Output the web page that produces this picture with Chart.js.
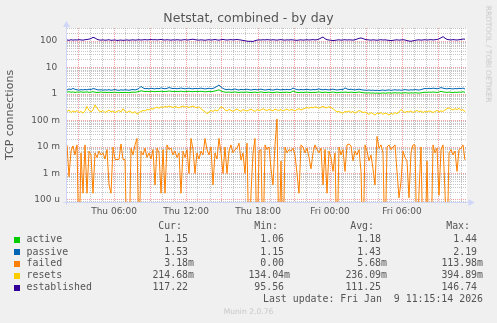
<!DOCTYPE html>
<html><head><meta charset="utf-8">
<script src="https://cdn.jsdelivr.net/npm/chart.js@4.4.1/dist/chart.umd.min.js"></script>
<style>
html,body{margin:0;padding:0;background:#F0F0F0;}
#wrap{position:relative;width:497px;height:323px;overflow:hidden;background:#F0F0F0;}
canvas{position:absolute;left:0;top:0;}
.t{position:absolute;white-space:pre;color:#555;}
.mono{font-family:"DejaVu Sans Mono",monospace;font-size:9.9px;line-height:12px;height:12px;}
.sq{position:absolute;width:6px;height:6px;}
</style></head><body>
<div id="wrap"><canvas id="c" width="497" height="323"></canvas></div>
<script>
// ---------- data (5-minute rrd, sampled every 10 minutes) ----------
const START_HOUR = 2 + 5 / 60;      // Thu 02:05 (hours since Thu 00:00)
const STEP_HOURS = 10 / 60;
const END_HOUR = START_HOUR + 400 / 12;

const seriesNames  = ['active', 'passive', 'failed', 'resets', 'established'];
const seriesColors = ['#00CC00', '#0066B3', '#FF8000', '#FFCC00', '#330099'];

const active = [
1.18,1.22,1.16,1.20,1.15,1.19,1.17,1.21,1.16,1.18,
1.20,1.15,1.18,1.22,1.17,1.14,1.16,1.19,1.15,1.17,
1.14,1.16,1.13,1.15,1.17,1.14,1.12,1.15,1.13,1.16,
1.14,1.12,1.15,1.18,1.16,1.20,1.25,1.32,1.28,1.24,
1.26,1.23,1.27,1.25,1.22,1.26,1.24,1.28,1.25,1.23,
1.26,1.30,1.27,1.24,1.26,1.23,1.25,1.28,1.24,1.22,
1.25,1.27,1.24,1.22,1.26,1.23,1.25,1.27,1.24,1.21,
1.23,1.26,1.22,1.25,1.30,1.36,1.44,1.30,1.22,1.18,
1.16,1.19,1.15,1.17,1.20,1.16,1.14,1.18,1.15,1.17,
1.19,1.15,1.13,1.16,1.18,1.14,1.17,1.20,1.16,1.14,
1.15,1.18,1.14,1.12,1.16,1.19,1.15,1.13,1.17,1.15,
1.18,1.14,1.16,1.30,1.20,1.15,1.13,1.17,1.14,1.16,
1.18,1.15,1.13,1.16,1.14,1.17,1.20,1.16,1.14,1.18,
1.15,1.13,1.16,1.19,1.15,1.12,1.14,1.17,1.15,1.18,
1.16,1.14,1.18,1.15,1.13,1.16,1.19,1.15,1.12,1.10,
1.09,1.11,1.08,1.10,1.07,1.09,1.06,1.08,1.10,1.07,
1.09,1.11,1.08,1.10,1.12,1.09,1.11,1.08,1.10,1.12,
1.10,1.08,1.11,1.09,1.12,1.10,1.08,1.11,1.14,1.17,
1.15,1.18,1.16,1.19,1.17,1.15,1.18,1.26,1.20,1.17,
1.15,1.18,1.16,1.14,1.17,1.15,1.19,1.16,1.22,1.15];

const passive = [
1.42,1.55,1.48,1.62,1.50,1.45,1.40,1.46,1.43,1.48,
1.44,1.52,1.47,1.60,1.55,1.46,1.42,1.45,1.40,1.44,
1.41,1.46,1.39,1.43,1.47,1.41,1.38,1.44,1.40,1.45,
1.42,1.39,1.44,1.48,1.43,1.50,1.62,1.95,1.70,1.58,
1.62,1.57,1.65,1.60,1.56,1.64,1.59,1.70,1.62,1.58,
1.63,1.75,1.66,1.60,1.64,1.58,1.62,1.68,1.61,1.57,
1.62,1.66,1.60,1.57,1.63,1.59,1.61,1.67,1.60,1.56,
1.60,1.65,1.58,1.63,1.75,1.95,2.19,1.85,1.62,1.50,
1.46,1.52,1.44,1.48,1.55,1.47,1.42,1.50,1.45,1.48,
1.52,1.46,1.42,1.47,1.50,1.44,1.48,1.53,1.46,1.42,
1.45,1.50,1.44,1.41,1.47,1.52,1.46,1.43,1.49,1.45,
1.50,1.45,1.48,1.68,1.55,1.47,1.43,1.49,1.44,1.47,
1.51,1.46,1.43,1.48,1.45,1.50,1.55,1.48,1.44,1.50,
1.46,1.43,1.48,1.52,1.46,1.42,1.45,1.50,1.47,1.70,
1.55,1.47,1.52,1.46,1.43,1.48,1.52,1.46,1.42,1.40,
1.38,1.42,1.37,1.40,1.36,1.39,1.35,1.38,1.41,1.37,
1.40,1.43,1.38,1.41,1.45,1.40,1.43,1.39,1.42,1.46,
1.43,1.40,1.44,1.42,1.47,1.44,1.41,1.46,1.55,1.62,
1.58,1.64,1.60,1.66,1.62,1.58,1.63,1.75,1.66,1.60,
1.57,1.62,1.59,1.55,1.61,1.58,1.64,1.60,1.68,1.53];

// failed, in milli-connections (0 = no failures)
const failedMilli = [
12,0.75,7,11,5,12,0,6,0.18,12,
0.18,7,5,0.18,6,4,7,5,6,3.5,
8,0.37,0.18,10,3.4,3.4,3.4,13,3.4,3.4,
0,0,9,5,12,21,0,7,5,9,
4,6,3.5,8,0.37,9,6,0.18,8,0.18,
12,8,9,5,7,4,6,0.18,7,4,
8,1.0,21,8,1.0,6,3.5,7,5,21,
8,5,10,0.37,6,3.5,21,6,1.0,10,
1.0,7,12,6,8,9,14,3.2,6,1.0,
14,0,0.18,6,21,0,7,8,0,12,
8,10,1.5,0.37,12,114,0,3,0,10,
6,8,7,9,5,1.0,0.18,12,10,6,
9,4,1.5,6,12,8,6,9,0.37,8,
0.18,7,4,1.2,6,0,10,5,8,1.2,
12,13,11,3,7,5,8,1.2,0,12,
7,3,5,1.5,0.37,25,9,12,6,0,
10,12,8,10,12,1.2,0.12,0.5,7,4,
3,0.12,6,12,12,0,0.2,10,0,0,
3,0,0,12,6,9,0.15,8,12,0.2,
0,6,8,5,7,1.2,8,9,12,3.18];

const resets = [
0.22,0.25,0.20,0.23,0.21,0.24,0.20,0.22,0.19,0.23,
0.34,0.24,0.21,0.25,0.39,0.30,0.23,0.21,0.24,0.20,
0.22,0.25,0.21,0.23,0.20,0.22,0.24,0.21,0.28,0.22,
0.20,0.23,0.21,0.19,0.22,0.17,0.20,0.22,0.24,0.23,
0.26,0.25,0.28,0.27,0.30,0.32,0.29,0.33,0.31,0.34,
0.32,0.35,0.33,0.31,0.34,0.32,0.30,0.33,0.35,0.32,
0.34,0.31,0.33,0.35,0.32,0.30,0.33,0.28,0.24,0.22,
0.18,0.21,0.24,0.22,0.25,0.23,0.26,0.34,0.30,0.25,
0.23,0.26,0.24,0.22,0.25,0.27,0.24,0.22,0.26,0.24,
0.23,0.25,0.27,0.24,0.22,0.26,0.24,0.25,0.28,0.25,
0.24,0.26,0.25,0.23,0.27,0.25,0.24,0.26,0.23,0.25,
0.27,0.24,0.26,0.25,0.23,0.26,0.28,0.25,0.27,0.29,
0.31,0.29,0.32,0.30,0.33,0.31,0.29,0.32,0.34,0.31,
0.30,0.33,0.31,0.28,0.24,0.21,0.22,0.20,0.19,0.22,
0.21,0.23,0.20,0.22,0.19,0.21,0.24,0.22,0.20,0.21,
0.19,0.17,0.20,0.18,0.16,0.19,0.18,0.20,0.17,0.19,
0.18,0.16,0.19,0.17,0.20,0.18,0.21,0.26,0.22,0.20,
0.22,0.21,0.23,0.20,0.22,0.24,0.21,0.23,0.20,0.22,
0.21,0.23,0.22,0.20,0.22,0.24,0.21,0.23,0.22,0.25,
0.28,0.30,0.27,0.25,0.28,0.26,0.29,0.24,0.26,0.21];

const established = [
110,106,112,108,111,109,113,110,108,112,
114,118,124,138,130,116,110,108,111,107,
109,112,106,108,110,105,107,109,106,108,
110,107,109,111,108,110,112,109,111,113,
110,112,114,111,113,110,112,115,111,109,
112,110,108,111,109,112,110,108,111,113,
109,111,114,117,112,110,108,111,109,107,
110,112,109,111,114,110,108,112,115,111,
109,111,113,110,112,114,111,109,105,102,
99,97,98,96,103,108,111,109,112,110,
113,111,109,112,110,108,111,113,110,108,
111,109,112,110,108,106,109,111,108,110,
112,109,111,113,110,112,118,130,142,122,
112,109,107,104,106,109,111,108,110,112,
109,111,110,108,112,118,126,130,124,115,
112,110,108,111,109,107,110,112,109,111,
108,106,104,106,109,111,108,110,112,109,
104,100,98,102,106,109,111,108,110,112,
109,111,113,110,112,114,120,132,147,128,
115,112,110,113,111,109,112,114,119,117];

// legend statistics (as printed)
const statHeaders = ['Cur:', 'Min:', 'Avg:', 'Max:'];
const statCur = ['1.15', '1.53', '3.18m', '214.68m', '117.22'];
const statMin = ['1.06', '1.15', '0.00', '134.04m', '95.56'];
const statAvg = ['1.18', '1.43', '5.68m', '236.09m', '111.25'];
const statMax = ['1.44', '2.19', '113.98m', '394.89m', '146.74'];

// axis ticks
const yTickValues = [1e-4, 1e-3, 1e-2, 1e-1, 1, 10, 100];
const yTickLabels = ['100 u', '1 m', '10 m', '100 m', '1 ', '10 ', '100 '];
const xTickHours  = [6, 12, 18, 24, 30];
const xTickLabels = ['Thu 06:00', 'Thu 12:00', 'Thu 18:00', 'Fri 00:00', 'Fri 06:00'];

const Y_MIN = 8.4e-5, Y_MAX = 310;
const LOG_FLOOR = 1e-6; // a zero cannot sit on a log axis: drawn as a drop below the floor

// ---------- chart ----------
const times = established.map((_, i) => START_HOUR + i * STEP_HOURS);
const seriesValues = [active, passive, failedMilli.map(v => v / 1000), resets, established];

const MINOR = 'rgba(150,150,150,0.55)';
const MAJOR = 'rgba(235,110,110,0.65)';
const AXIS_COLOR = '#CFD6F8';
const TEXT = '#555';

const isDecade = v => Math.abs(Math.log10(v) - Math.round(Math.log10(v))) < 1e-6;

const framePlugin = {
  id: 'frame',
  beforeDraw(chart) {
    const { ctx, chartArea: a } = chart;
    ctx.save();
    ctx.fillStyle = '#F0F0F0';
    ctx.fillRect(0, 0, chart.width, chart.height);
    ctx.fillStyle = '#FFFFFF';
    ctx.fillRect(a.left, a.top, a.right - a.left, a.bottom - a.top);
    ctx.restore();
  },
  afterDraw(chart) {
    const { ctx, chartArea: a } = chart;
    ctx.save();
    ctx.strokeStyle = AXIS_COLOR; ctx.fillStyle = AXIS_COLOR; ctx.lineWidth = 1;
    const by = a.bottom + 0.5, lx = a.left - 0.5;
    ctx.beginPath(); ctx.moveTo(a.left - 4, by); ctx.lineTo(a.right + 2, by); ctx.stroke();
    ctx.beginPath(); ctx.moveTo(lx, a.bottom + 3); ctx.lineTo(lx, a.top - 1); ctx.stroke();
    ctx.beginPath(); ctx.moveTo(a.right + 7.5, by); ctx.lineTo(a.right + 1.5, by - 3.5); ctx.lineTo(a.right + 1.5, by + 3.5); ctx.closePath(); ctx.fill();
    ctx.beginPath(); ctx.moveTo(lx, a.top - 7); ctx.lineTo(lx - 3.5, a.top - 1); ctx.lineTo(lx + 3.5, a.top - 1); ctx.closePath(); ctx.fill();
    ctx.restore();
  }
};

new Chart(document.getElementById('c'), {
  type: 'line',
  data: {
    datasets: seriesNames.map((name, k) => ({
      label: name,
      data: times.map((t, i) => ({ x: t, y: seriesValues[k][i] === 0 ? LOG_FLOOR : seriesValues[k][i] })),
      borderColor: seriesColors[k],
      borderWidth: 1,
      pointRadius: 0,
      fill: false,
      tension: 0,
      order: seriesNames.length - k
    }))
  },
  options: {
    responsive: false,
    animation: false,
    devicePixelRatio: 1,
    events: [],
    layout: { padding: { left: 0, top: 28, right: 30, bottom: 101 } },
    plugins: { legend: { display: false }, tooltip: { enabled: false }, title: { display: false } },
    scales: {
      x: {
        type: 'linear',
        min: START_HOUR,
        max: END_HOUR,
        afterBuildTicks(scale) {
          const t = [];
          for (let h = Math.ceil(START_HOUR); h <= Math.floor(END_HOUR); h++) t.push({ value: h });
          scale.ticks = t;
        },
        afterFit(scale) { scale.height = 20; },
        ticks: {
          autoSkip: false, maxRotation: 0, padding: 4, color: TEXT,
          font: { family: 'DejaVu Sans', size: 9 },
          callback: v => { const j = xTickHours.indexOf(Math.round(v)); return j >= 0 ? xTickLabels[j] : ''; }
        },
        grid: { color: c => (Math.round(c.tick.value) % 3 === 0 ? MAJOR : MINOR), lineWidth: 1, drawTicks: false },
        border: { display: false, dash: [1, 1] }
      },
      y: {
        type: 'logarithmic',
        min: Y_MIN,
        max: Y_MAX,
        afterBuildTicks(scale) {
          const t = [];
          for (let e = -5; e <= 3; e++) for (let m = 1; m <= 9; m++) {
            const v = +(m * Math.pow(10, e)).toPrecision(3);
            if (v >= Y_MIN && v <= Y_MAX) t.push({ value: v });
          }
          scale.ticks = t;
        },
        afterFit(scale) { scale.width = 67; },
        ticks: {
          autoSkip: false, padding: 7, color: TEXT,
          font: { family: 'DejaVu Sans', size: 9 },
          callback: v => { const j = yTickValues.findIndex(d => Math.abs(d - v) / d < 1e-6); return j >= 0 ? yTickLabels[j] : ''; }
        },
        grid: { color: c => (isDecade(c.tick.value) ? MAJOR : MINOR), lineWidth: 1, drawTicks: false },
        border: { display: false, dash: [1, 1] },
        title: { display: true, text: 'TCP connections', color: TEXT, font: { family: 'DejaVu Sans', size: 11 }, padding: { top: 4, bottom: 0 } }
      }
    }
  },
  plugins: [framePlugin]
});

// ---------- texts ----------
const wrap = document.getElementById('wrap');
function addText(txt, css, cls) {
  const d = document.createElement('div');
  d.className = 't ' + (cls || '');
  d.textContent = txt;
  d.style.cssText += css;
  wrap.appendChild(d);
  return d;
}
addText('Netstat, combined - by day', 'left:0;width:497px;text-align:center;top:12px;font-family:"DejaVu Sans";font-size:12.5px;line-height:12.5px;');
addText('RRDTOOL / TOBI OETIKER', 'left:488px;top:53.5px;transform:translate(-50%,-50%) rotate(90deg);font-family:"DejaVu Sans";font-size:7.5px;line-height:8px;color:#C8C8C8;');

const rowTops = [233, 245.5, 257, 269.2, 281.2];
const colRights = [194, 290, 387, 483];
const headRights = [182, 278, 374, 470];
statHeaders.forEach((h, c) => addText(h, `right:${497 - headRights[c]}px;top:220.2px;`, 'mono'));
const cols = [statCur, statMin, statAvg, statMax];
seriesNames.forEach((name, r) => {
  const sq = document.createElement('div');
  sq.className = 'sq';
  sq.style.cssText = `left:14px;top:${rowTops[r] + 3.5}px;background:${seriesColors[r]};`;
  wrap.appendChild(sq);
  addText(name, `left:26.5px;top:${rowTops[r]}px;`, 'mono');
  cols.forEach((col, c) => {
    const s = col[r];
    const txt = /[0-9]$/.test(s) ? s + ' ' : s;
    addText(txt, `right:${497 - colRights[c]}px;top:${rowTops[r]}px;`, 'mono');
  });
});
addText('Last update: Fri Jan  9 11:15:14 2026', `right:${497 - 483}px;top:293.2px;`, 'mono');
addText('Munin 2.0.76', 'left:0;width:497px;text-align:center;top:308.4px;font-family:"DejaVu Sans";font-size:7.6px;line-height:7.6px;color:#C8C8C8;');
</script>
</body></html>
